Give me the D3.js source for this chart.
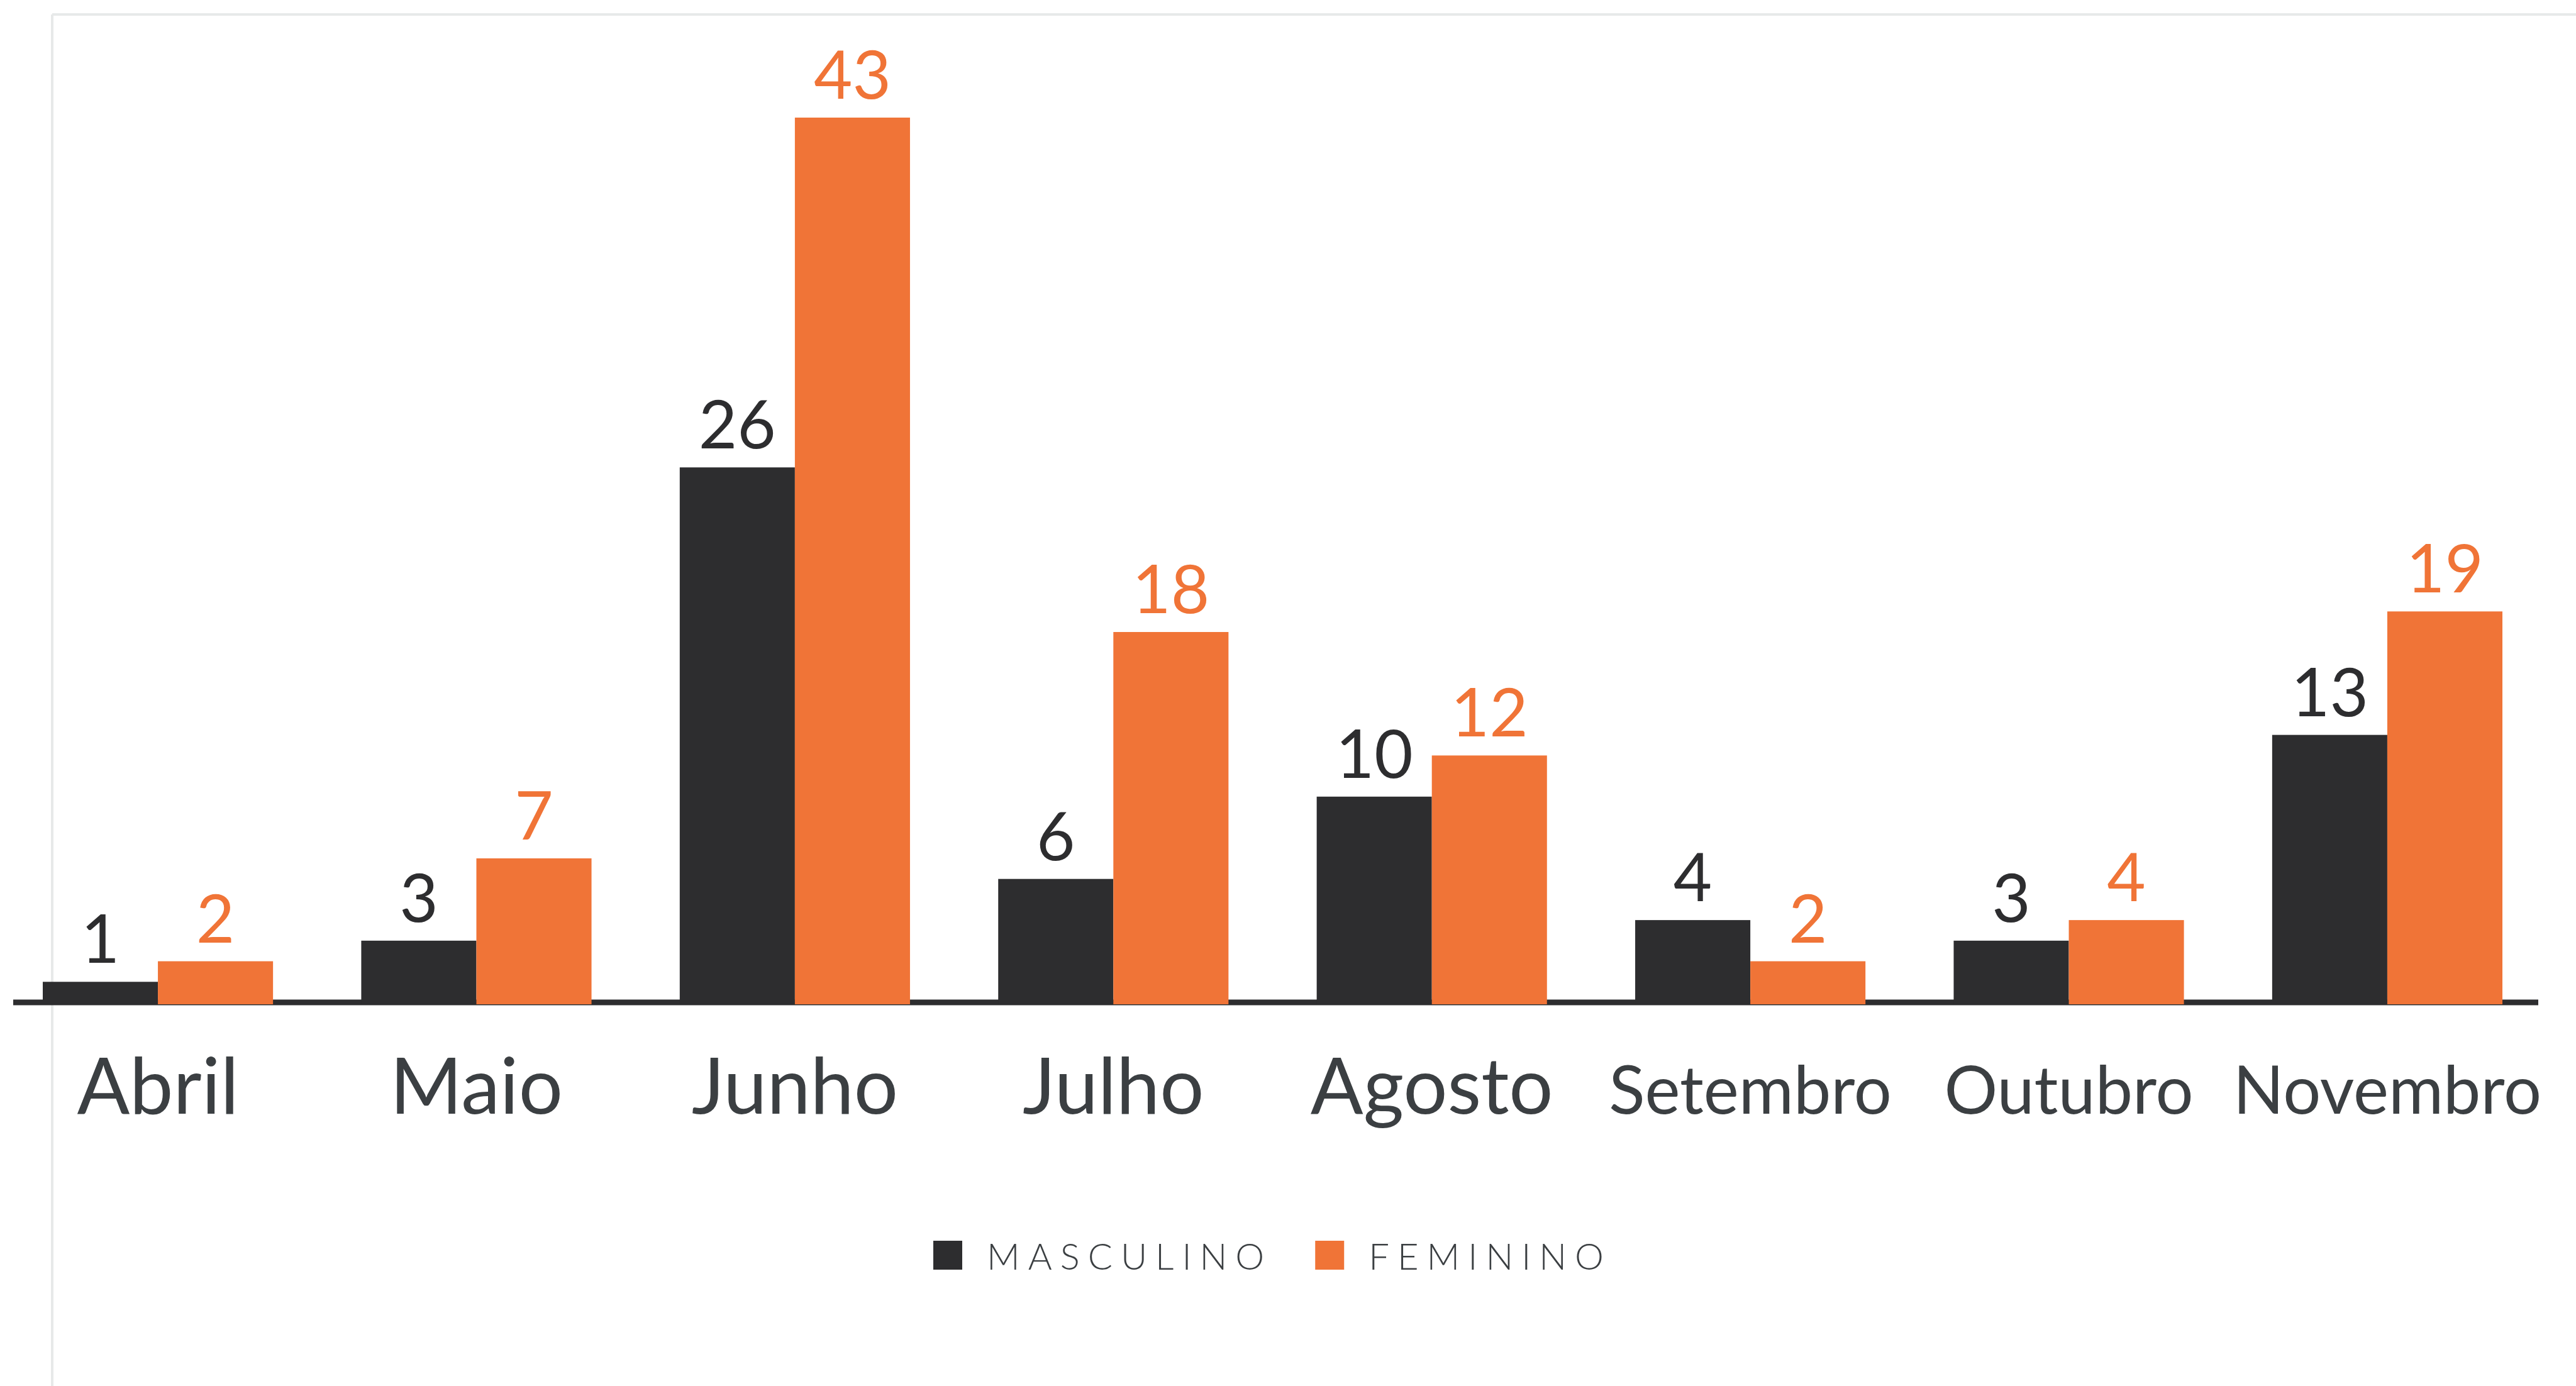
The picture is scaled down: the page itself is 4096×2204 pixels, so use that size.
<!DOCTYPE html>
<html>
<head>
<meta charset="utf-8">
<script src="https://cdn.jsdelivr.net/npm/d3@7"></script>
<style>
  html, body { margin: 0; padding: 0; background: #fff; }
  #chart { width: 4096px; height: 2204px; }
</style>
</head>
<body>
<div id="chart"></div>
<script>

// data
let months = ["Abril", "Maio", "Junho", "Julho", "Agosto", "Setembro", "Outubro", "Novembro"];
let series = ["MASCULINO", "FEMININO"];
let masculino = [1, 3, 26, 6, 10, 4, 3, 13];
let feminino = [2, 7, 43, 18, 12, 2, 4, 19];

let colors = {MASCULINO: "#2d2d2f", FEMININO: "#f07437"};

let width = 4096, height = 2204;

let svg = d3.select("#chart").append("svg")
    .attr("width", width)
    .attr("height", height);

// light frame (top + left)
svg.append("line")
    .attr("x1", 83).attr("x2", width)
    .attr("y1", 23).attr("y2", 23)
    .style("stroke", "#e7e9e9").style("stroke-width", 4);
svg.append("line")
    .attr("x1", 83).attr("x2", 83)
    .attr("y1", 23).attr("y2", height)
    .style("stroke", "#e7e9e9").style("stroke-width", 4);

// scales
let x0 = d3.scaleBand()
    .domain(months)
    .range([68, 3979])
    .paddingInner(0.277)
    .paddingOuter(0);

let x1 = d3.scaleBand()
    .domain(series)
    .range([0, x0.bandwidth()])
    .padding(0);

let baseY = 1594;
let y = d3.scaleLinear()
    .domain([0, 43])
    .range([baseY, 187]);

let rows = months.map((m, i) => ({
    month: m,
    values: [
        {key: "MASCULINO", value: masculino[i]},
        {key: "FEMININO", value: feminino[i]}
    ]
}));

// baseline
svg.append("line")
    .attr("x1", 21).attr("x2", 4036)
    .attr("y1", baseY).attr("y2", baseY)
    .style("stroke", "#2d2d2f").style("stroke-width", 9);

let groups = svg.selectAll(".group")
    .data(rows)
    .enter().append("g")
    .attr("class", "group")
    .attr("transform", d => `translate(${x0(d.month)},0)`);

groups.selectAll("rect")
    .data(d => d.values)
    .enter().append("rect")
    .attr("x", d => x1(d.key))
    .attr("y", d => y(d.value))
    .attr("width", x1.bandwidth())
    .attr("height", d => baseY + 3 - y(d.value))
    .style("fill", d => colors[d.key]);

groups.selectAll(".val")
    .data(d => d.values)
    .enter().append("text")
    .attr("class", "val")
    .attr("x", d => x1(d.key) + x1.bandwidth() / 2)
    .attr("y", d => y(d.value) - 30)
    .attr("text-anchor", "middle")
    .style("font-family", "Lato, 'Open Sans', sans-serif")
    .style("font-size", "106px")
    .style("fill", d => colors[d.key])
    .text(d => d.value);

// month labels
svg.selectAll(".month")
    .data(months)
    .enter().append("text")
    .attr("class", "month")
    .attr("x", d => x0(d) + x0.bandwidth() / 2)
    .attr("y", 1771)
    .attr("text-anchor", "middle")
    .style("font-family", "Lato, 'Open Sans', sans-serif")
    .style("font-size", d => d.length > 6 ? "106px" : "124px")
    .style("fill", "#3b3f42")
    .text(d => d);

// legend
let legend = svg.append("g").attr("class", "legend");
let lx = 0;
series.forEach((s, i) => {
    let item = legend.append("g").attr("transform", `translate(${lx},0)`);
    item.append("rect")
        .attr("x", 0).attr("y", -46)
        .attr("width", 46).attr("height", 46)
        .style("fill", colors[s]);
    let t = item.append("text")
        .attr("x", 46 + 39)
        .attr("y", 0)
        .style("font-family", "Lato, 'Open Sans', sans-serif")
        .style("font-weight", 300)
        .style("font-size", "58px")
        .style("letter-spacing", "13px")
        .style("fill", "#3b3f42")
        .text(s);
    lx += 46 + 39 + t.node().getComputedTextLength() + 68;
});
let lw = lx - 68;
let centre = (x0.range()[0] + x0.range()[1]) / 2;
legend.attr("transform", `translate(${centre - lw / 2},2019)`);

</script>
</body>
</html>
